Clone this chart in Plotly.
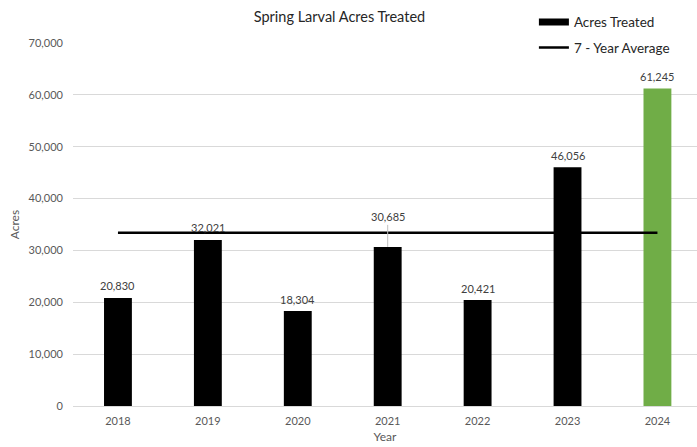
import plotly.graph_objects as go

years = ["2018", "2019", "2020", "2021", "2022", "2023", "2024"]
acres = [20830, 32021, 18304, 30685, 20421, 46056, 61245]
bar_colors = ["#000000"] * 6 + ["#70AD47"]
average_value = 33400
y_ticks = [0, 10000, 20000, 30000, 40000, 50000, 60000, 70000]

FONT = "Lato"
xpos = list(range(len(years)))

fig = go.Figure()
fig.add_trace(go.Bar(
    x=xpos, y=acres, marker=dict(color=bar_colors, line=dict(width=0)),
    width=0.31, showlegend=False, name="Acres Treated"))
# legend-only entry drawn as a thick line like the reference
fig.add_trace(go.Scatter(
    x=[None], y=[None], mode="lines", name="Acres Treated", legendgroup="a",
    line=dict(color="black", width=7)))
fig.add_trace(go.Scatter(
    x=xpos, y=[average_value] * len(years), mode="lines", legendgroup="b",
    name="7 - Year Average", line=dict(color="black", width=2.5)))

for i, (yr, v) in enumerate(zip(years, acres)):
    if yr == "2021":
        fig.add_annotation(x=i, y=v, text=f"{v:,}", showarrow=True,
                           arrowhead=0, arrowwidth=1, arrowcolor="#bfbfbf",
                           ax=0, ay=-30, standoff=0,
                           font=dict(family=FONT, size=11, color="#404040"))
    else:
        fig.add_annotation(x=i, y=v, text=f"{v:,}", showarrow=False,
                           yshift=12,
                           font=dict(family=FONT, size=11, color="#404040"))

fig.update_layout(
    width=697, height=447,
    margin=dict(l=73, r=0, t=43, b=41, autoexpand=False),
    plot_bgcolor="white", paper_bgcolor="white",
    font=dict(family=FONT, size=11, color="#595959"),
    title=dict(text="Spring Larval Acres Treated", x=0.487, xanchor="center",
               y=0.962, yanchor="middle",
               font=dict(family=FONT, size=14.5, color="#262626")),
    legend=dict(x=0.766, xanchor="left", y=0.985, yanchor="top",
                xref="container", yref="container",
                bgcolor="white", font=dict(family=FONT, size=13.5, color="#262626"),
                tracegroupgap=5, itemwidth=30),
    xaxis=dict(range=[-0.5, 6.44], tickvals=xpos, ticktext=years,
               showgrid=False, showline=False, zeroline=False, ticks="",
               ticklabelstandoff=7,
               title=dict(text="Year", standoff=6,
                          font=dict(family=FONT, size=12, color="#595959"))),
    yaxis=dict(range=[0, 70000], tickvals=y_ticks,
               ticktext=[f"{t:,}" for t in y_ticks],
               showgrid=True, gridcolor="#d9d9d9", gridwidth=1,
               zeroline=True, zerolinecolor="#d9d9d9", zerolinewidth=1,
               ticklabelstandoff=9,
               title=dict(text="Acres", standoff=6,
                          font=dict(family=FONT, size=12, color="#595959"))),
)

fig.write_html("out.html", config={"displayModeBar": False},
               post_script="document.body.style.margin='0';")
